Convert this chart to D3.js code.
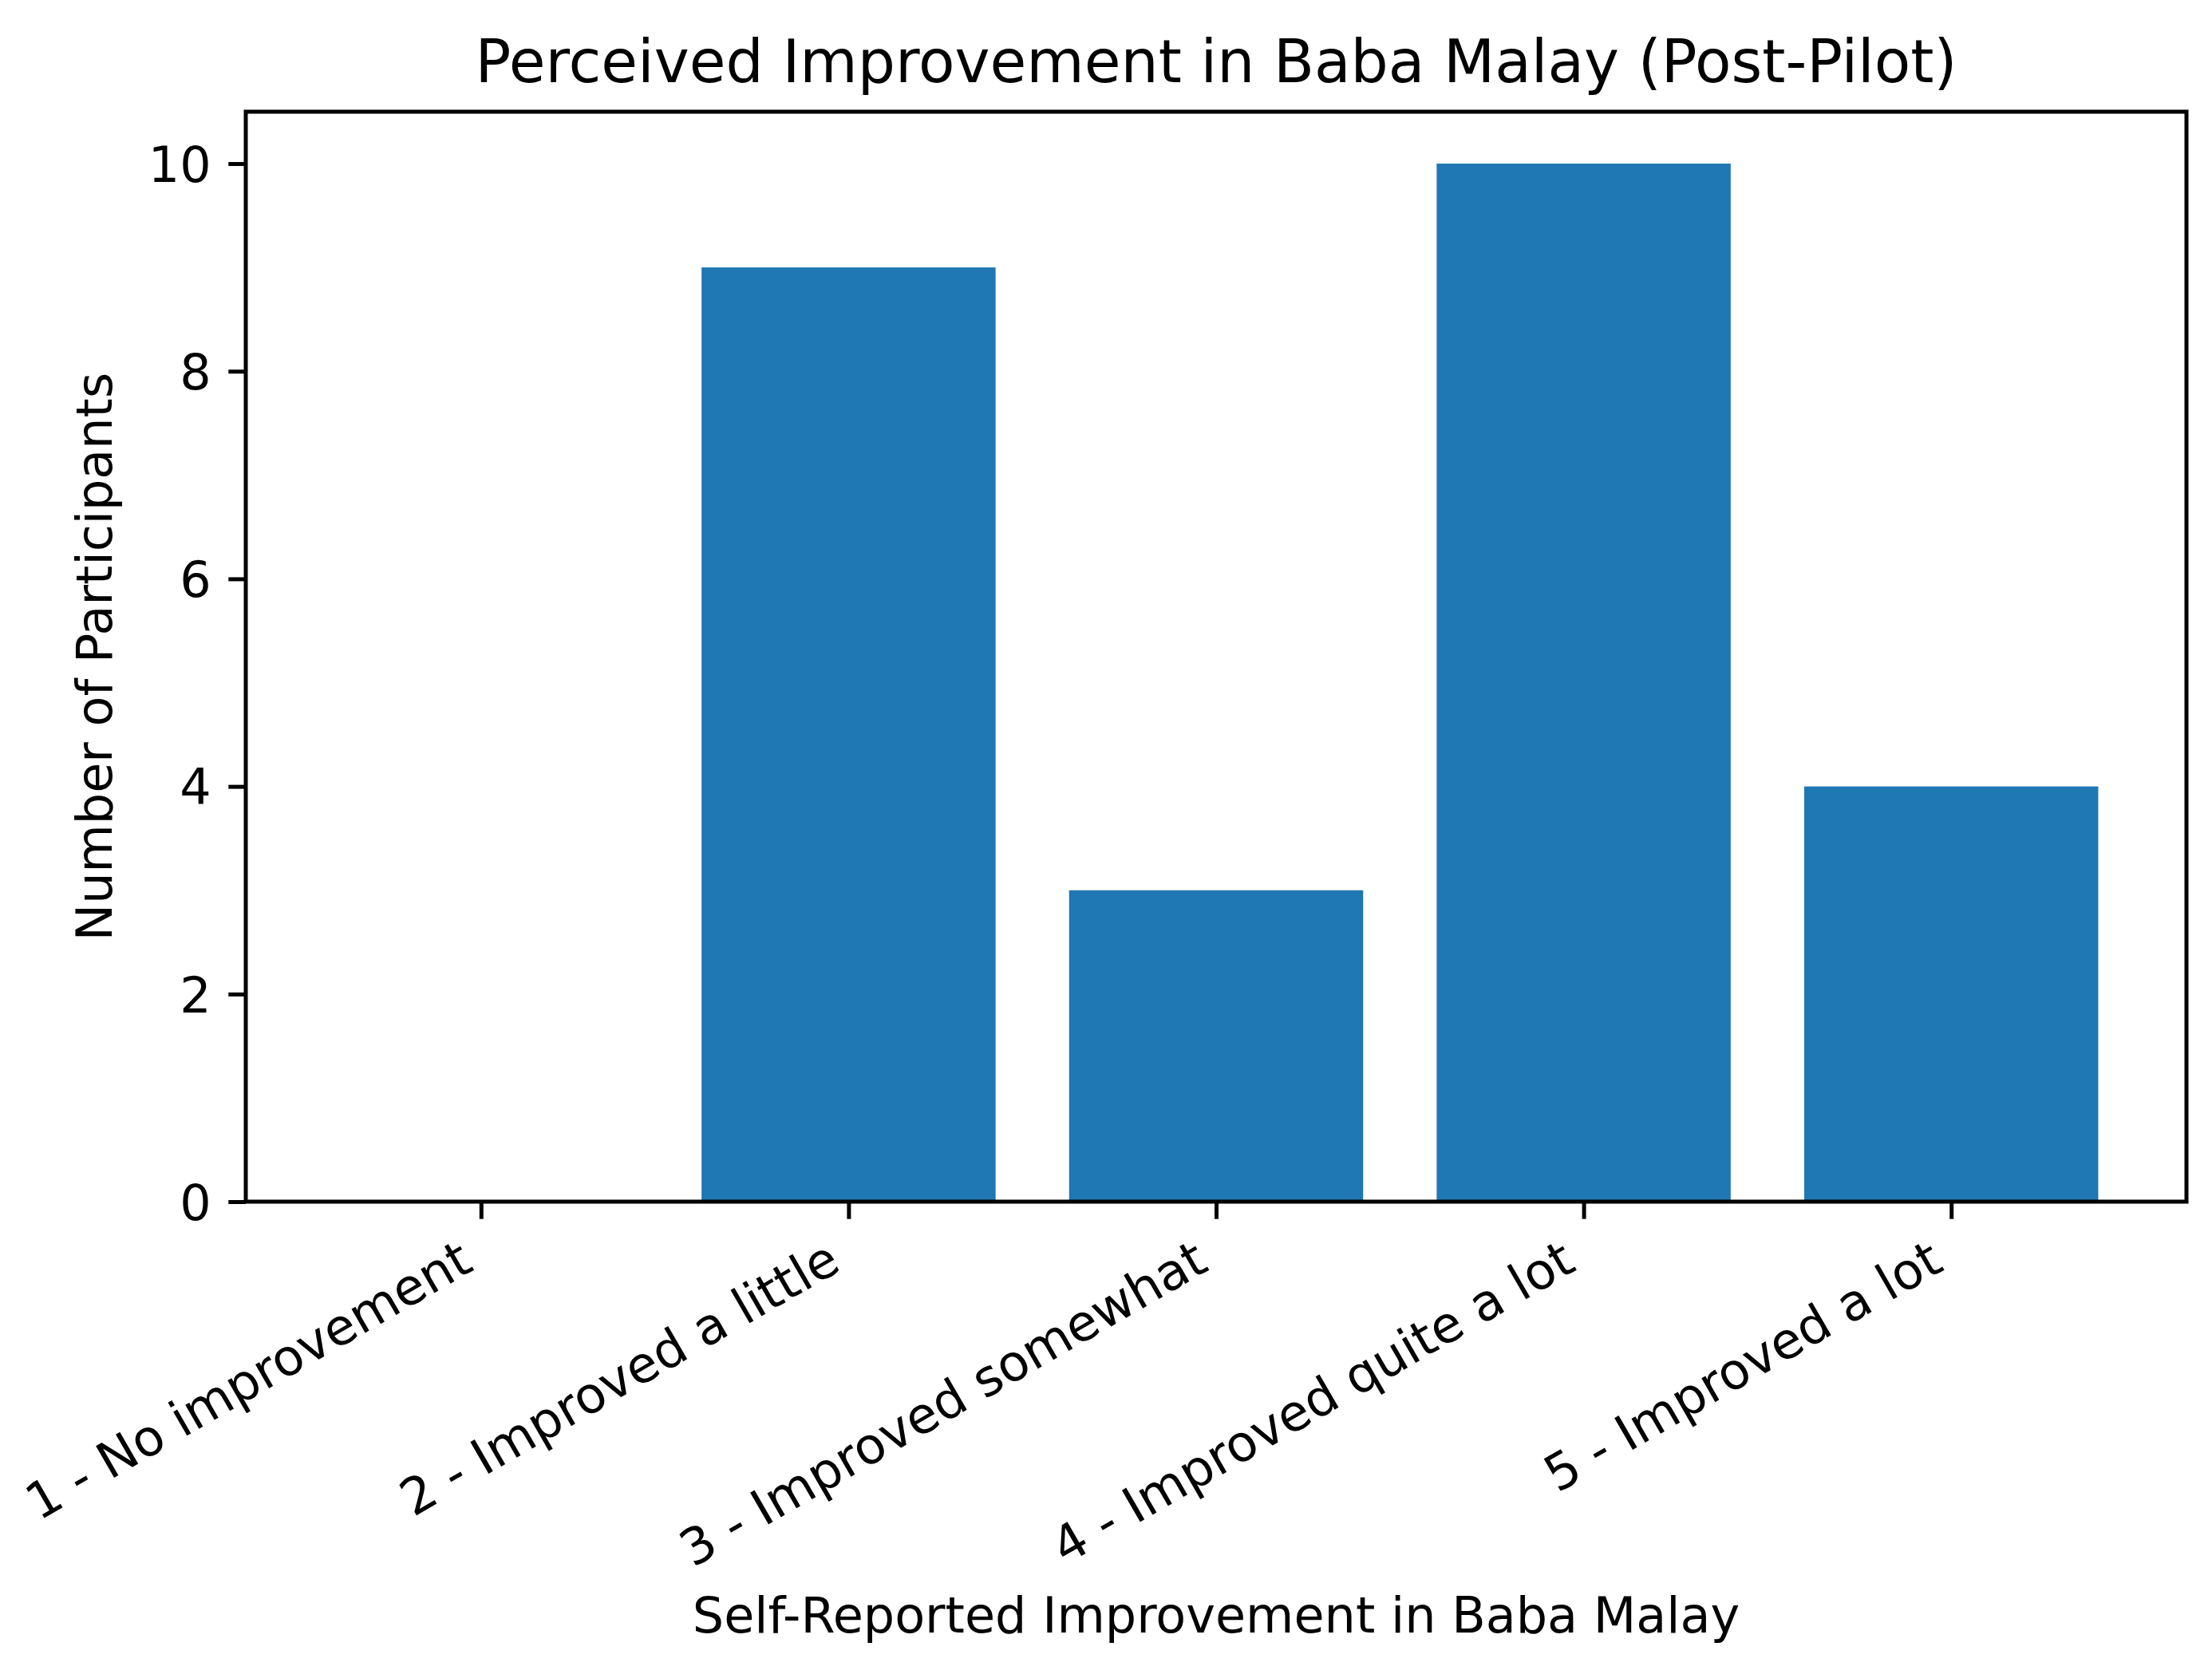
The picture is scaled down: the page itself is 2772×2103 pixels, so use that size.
<!DOCTYPE html>
<html>
<head>
<meta charset="utf-8">
<script src="https://cdn.jsdelivr.net/npm/d3@7"></script>
<style>
  html, body { margin: 0; padding: 0; background: #fff; }
  svg { display: block; font-family: "DejaVu Sans", sans-serif; }
</style>
</head>
<body>
<div id="chart"></div>
<script>
// data
const categories = [
  "1 - No improvement",
  "2 - Improved a little",
  "3 - Improved somewhat",
  "4 - Improved quite a lot",
  "5 - Improved a lot"
];
const counts = [0, 9, 3, 10, 4];
const yTicks = [0, 2, 4, 6, 8, 10];

const titleText = "Perceived Improvement in Baba Malay (Post-Pilot)";
const xLabelText = "Self-Reported Improvement in Baba Malay";
const yLabelText = "Number of Participants";

(function () {
  const width = 2772;
  const height = 2103;
  const box = { left: 308, right: 2740, top: 140, bottom: 1506 };
  const fontSize = 62;
  const catFontSize = 63;
  const tickLen = 21.7;
  const tickPad = 21.7;
  const lineW = 5;
  const barWidth = 0.8;

  const svg = d3.select("#chart").append("svg")
    .attr("width", width)
    .attr("height", height)
    .attr("viewBox", `0 0 ${width} ${height}`);

  svg.append("rect").attr("width", width).attr("height", height).attr("fill", "#fff");

  // matplotlib style margins: 5% of the bar extent on either side
  const x = d3.scaleLinear()
    .domain([-0.4 - 0.24, categories.length - 1 + 0.4 + 0.24])
    .range([box.left, box.right]);
  const y = d3.scaleLinear()
    .domain([0, 10.5])
    .range([box.bottom, box.top]);

  // bars
  svg.append("g").selectAll("rect")
    .data(counts)
    .join("rect")
    .attr("x", (d, i) => x(i - barWidth / 2))
    .attr("width", (d, i) => x(i + barWidth / 2) - x(i - barWidth / 2))
    .attr("y", d => y(d))
    .attr("height", d => y(0) - y(d))
    .attr("fill", "#1f77b4");

  // y axis
  const yAxis = svg.append("g")
    .attr("transform", `translate(${box.left},0)`)
    .call(d3.axisLeft(y).tickValues(yTicks).tickSize(tickLen).tickPadding(tickPad).tickFormat(d3.format("d")));
  yAxis.select(".domain").remove();
  yAxis.selectAll(".tick line").attr("stroke", "#000").attr("stroke-width", lineW);
  yAxis.selectAll(".tick text")
    .attr("fill", "#000")
    .attr("font-size", fontSize)
    .attr("font-family", "DejaVu Sans")
    .attr("dy", "0.36em");

  // x axis
  const xAxis = svg.append("g")
    .attr("transform", `translate(0,${box.bottom})`)
    .call(d3.axisBottom(x).tickValues(d3.range(categories.length)).tickSize(tickLen).tickFormat(""));
  xAxis.select(".domain").remove();
  xAxis.selectAll(".tick line").attr("stroke", "#000").attr("stroke-width", lineW);

  // rotated category labels, right/top aligned like matplotlib rotation=30, ha='right'
  const asc = 0.76 * catFontSize;
  const desc = 0.236 * catFontSize;
  const labelTop = box.bottom + tickLen + tickPad;
  svg.append("g").selectAll("text")
    .data(categories)
    .join("text")
    .attr("transform", (d, i) =>
      `translate(${x(i) - 0.5 * desc},${labelTop + 0.866 * asc}) rotate(-30)`)
    .attr("text-anchor", "end")
    .attr("font-size", catFontSize)
    .attr("fill", "#000")
    .text(d => d);

  // frame
  svg.append("rect")
    .attr("x", box.left)
    .attr("y", box.top)
    .attr("width", box.right - box.left)
    .attr("height", box.bottom - box.top)
    .attr("fill", "none")
    .attr("stroke", "#000")
    .attr("stroke-width", lineW);

  // title and axis labels
  const midX = (box.left + box.right) / 2;
  svg.append("text")
    .attr("x", midX)
    .attr("y", 103)
    .attr("text-anchor", "middle")
    .attr("font-size", 74.4)
    .attr("fill", "#000")
    .text(titleText);

  svg.append("text")
    .attr("x", midX)
    .attr("y", 2046)
    .attr("text-anchor", "middle")
    .attr("font-size", fontSize)
    .attr("fill", "#000")
    .text(xLabelText);

  svg.append("text")
    .attr("transform", `translate(140,${(box.top + box.bottom) / 2}) rotate(-90)`)
    .attr("text-anchor", "middle")
    .attr("font-size", fontSize)
    .attr("fill", "#000")
    .text(yLabelText);
})();
</script>
</body>
</html>
